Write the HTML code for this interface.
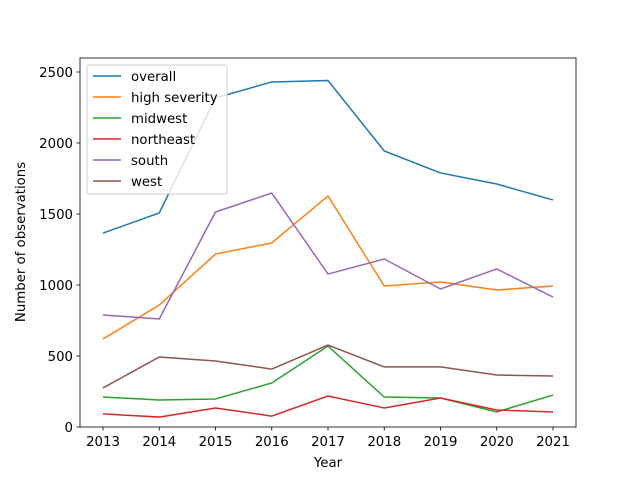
<!DOCTYPE html>
<html><head><meta charset="utf-8"><style>
body{margin:0;background:#fff}
svg text{font-family:"DejaVu Sans","Liberation Sans",sans-serif;font-size:13.3px;fill:#000}
</style></head><body>
<svg id="c" width="640" height="480" xmlns="http://www.w3.org/2000/svg"></svg>
<script>
const years=[2013,2014,2015,2016,2017,2018,2019,2020,2021];
const overall=[1366,1507,2317,2430,2440,1944,1789,1711,1599];
const highSeverity=[620,859,1218,1296,1627,993,1021,965,993];
const midwest=[211,190,197,310,570,211,204,106,225];
const northeast=[92,70,134,77,218,134,204,120,106];
const south=[789,761,1514,1648,1077,1183,972,1113,915];
const west=[275,493,465,408,577,423,423,366,359];
const yTicks=[0,500,1000,1500,2000,2500];
const seriesNames=["overall","high severity","midwest","northeast","south","west"];
const seriesData=[overall,highSeverity,midwest,northeast,south,west];
const colors=["#1f77b4","#ff7f0e","#2ca02c","#d62728","#9467bd","#8c564b"];
const L=80,R=576,T=58,B=427;
const x=v=>103+(v-2013)*(553-103)/8;
const y=v=>B-v*(355/2500);
const svg=document.getElementById('c');
const NS="http://www.w3.org/2000/svg";
function mk(t,a,p){const e=document.createElementNS(NS,t);for(const k in a)e.setAttribute(k,a[k]);(p||svg).appendChild(e);return e;}
seriesData.forEach((d,i)=>{
  const p=mk('polyline',{points:d.map((v,j)=>x(years[j])+','+y(v)).join(' '),fill:'none',stroke:colors[i],'stroke-width':1.5});
  
  
});
const frame=mk('rect',{x:L,y:T,width:R-L,height:B-T,fill:'none',stroke:'#000','stroke-width':0.8});


years.forEach(v=>{
  mk('line',{x1:x(v),x2:x(v),y1:B,y2:B+3.5,stroke:'#000','stroke-width':0.8});
  const t=mk('text',{x:x(v),y:B+19,'text-anchor':'middle'});t.textContent=v;
  
  
});
yTicks.forEach(v=>{
  mk('line',{x1:L-3.5,x2:L,y1:y(v),y2:y(v),stroke:'#000','stroke-width':0.8});
  const t=mk('text',{x:L-7,y:y(v)+5,'text-anchor':'end'});t.textContent=v;
  
  
});
const xt=mk('text',{x:(L+R)/2,y:467,'text-anchor':'middle'});xt.textContent='Year';


const yt=mk('text',{x:0,y:0,'text-anchor':'middle',transform:'translate(25,242) rotate(-90)'});yt.textContent='Number of observations';


const lg=mk('g',{});


mk('rect',{x:87,y:65,width:140,height:129,rx:2,fill:'#fff','fill-opacity':0.8,stroke:'#ccc'},lg);
seriesNames.forEach((n,i)=>{
  const yy=76+i*21;
  const g=mk('g',{},lg);
  
  
  mk('line',{x1:93,x2:121,y1:yy,y2:yy,stroke:colors[i],'stroke-width':1.5},g);
  const t=mk('text',{x:131,y:yy+5},g);t.textContent=n;
});
</script>
</body></html>
